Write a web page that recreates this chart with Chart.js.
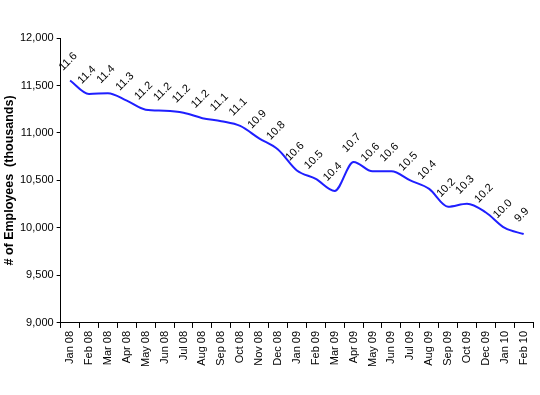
<!DOCTYPE html>
<html>
<head>
<meta charset="utf-8">
<script src="https://cdn.jsdelivr.net/npm/chart.js@4/dist/chart.umd.min.js"></script>
<style>
  html, body { margin: 0; padding: 0; background: #fff; }
  #wrap { width: 540px; height: 395px; }
</style>
</head>
<body>
<div id="wrap"><canvas id="employees"></canvas></div>
<script>
const months = ['Jan 08', 'Feb 08', 'Mar 08', 'Apr 08', 'May 08', 'Jun 08', 'Jul 08', 'Aug 08',
  'Sep 08', 'Oct 08', 'Nov 08', 'Dec 08', 'Jan 09', 'Feb 09', 'Mar 09', 'Apr 09', 'May 09',
  'Jun 09', 'Jul 09', 'Aug 09', 'Sep 09', 'Oct 09', 'Dec 09', 'Jan 10', 'Feb 10']

// thousands of employees
const employees = [11553, 11411, 11418, 11340, 11245, 11234, 11213, 11156, 11124, 11074,
  10943, 10826, 10605, 10517, 10390, 10695, 10596, 10596, 10500, 10411, 10223, 10255,
  10163, 10000, 9936]

// labels printed above each point (millions)
const pointLabels = ['11.6', '11.4', '11.4', '11.3', '11.2', '11.2', '11.2', '11.2', '11.1',
  '11.1', '10.9', '10.8', '10.6', '10.5', '10.4', '10.7', '10.6', '10.6', '10.5', '10.4',
  '10.2', '10.3', '10.2', '10.0', '9.9']

const yMin = 9000
const yMax = 12000
const yStep = 500

const fontFamily = '"Liberation Sans", Arial, sans-serif'

const labelPlugin = {
  id: 'pointLabels',
  afterDatasetsDraw(chart) {
    const c = chart.ctx
    const meta = chart.getDatasetMeta(0)
    c.save()
    c.font = '11px ' + fontFamily
    c.fillStyle = '#000'
    c.textAlign = 'center'
    c.textBaseline = 'middle'
    meta.data.forEach((pt, i) => {
      c.save()
      c.translate(pt.x - 2, pt.y - 19)
      c.rotate(-Math.PI / 4)
      c.fillText(pointLabels[i], 0, 0)
      c.restore()
    })
    c.restore()
  }
}

const ctx = document.getElementById('employees')

const myChart = new Chart(ctx, {
  type: 'line',
  data: {
    labels: months,
    datasets: [{
      data: employees,
      borderColor: '#1f1fff',
      borderWidth: 2,
      pointRadius: 0,
      cubicInterpolationMode: 'monotone',
      fill: false
    }]
  },
  options: {
    responsive: true,
    maintainAspectRatio: false,
    animation: false,
    layout: {
      padding: { top: 38, right: 6, bottom: 25, left: 2 }
    },
    plugins: {
      legend: { display: false },
      tooltip: { enabled: false }
    },
    scales: {
      x: {
        offset: true,
        grid: {
          offset: true,
          drawOnChartArea: false,
          tickLength: 5,
          color: '#000'
        },
        border: { color: '#000', width: 1 },
        ticks: {
          minRotation: 90,
          maxRotation: 90,
          autoSkip: false,
          padding: 3,
          color: '#000',
          font: { family: fontFamily, size: 11 }
        }
      },
      y: {
        min: yMin,
        max: yMax,
        grid: {
          drawOnChartArea: false,
          tickLength: 4,
          color: '#000'
        },
        border: { color: '#000', width: 1 },
        ticks: {
          stepSize: yStep,
          padding: 3,
          color: '#000',
          font: { family: fontFamily, size: 11 },
          callback: (v) => v.toLocaleString('en-US')
        },
        title: {
          display: true,
          text: '# of Employees  (thousands)',
          color: '#000',
          font: { family: fontFamily, size: 12.5, weight: 'bold' },
          padding: { top: 0, bottom: 0 }
        }
      }
    }
  },
  plugins: [labelPlugin]
})
</script>
</body>
</html>
